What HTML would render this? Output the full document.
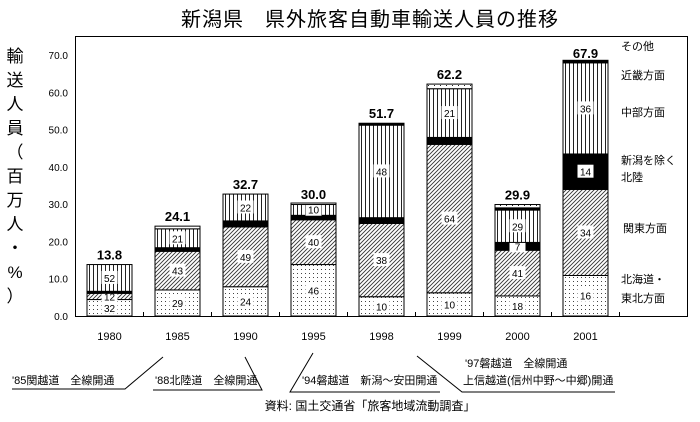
<!DOCTYPE html>
<html><head><meta charset="utf-8"><style>
body{margin:0;background:#fff;}
svg text{font-family:"Liberation Sans","Noto Sans CJK JP",sans-serif;}
</style></head><body>
<svg width="700" height="417" viewBox="0 0 700 417" xmlns="http://www.w3.org/2000/svg">
<defs>
<pattern id="pDots" width="4" height="4" patternUnits="userSpaceOnUse"><rect width="4" height="4" fill="#fff"/><rect x="1" y="1" width="1" height="1" fill="#444"/></pattern>
<pattern id="pHatch" width="4" height="4" patternUnits="userSpaceOnUse"><rect width="4" height="4" fill="#fff"/><path d="M0,4 L4,0 M-1,1 L1,-1 M3,5 L5,3" stroke="#333" stroke-width="0.9"/></pattern>
<pattern id="pVert" width="4" height="4" patternUnits="userSpaceOnUse"><rect width="4" height="4" fill="#fff"/><rect x="1" y="0" width="1" height="4" fill="#222"/></pattern>
<pattern id="pTop" width="6" height="4" patternUnits="userSpaceOnUse"><rect width="6" height="4" fill="#fff"/><rect x="2" y="1" width="1" height="1" fill="#222"/></pattern>
</defs>
<text x="370" y="26" font-size="20" text-anchor="middle" letter-spacing="1">新潟県　県外旅客自動車輸送人員の推移</text>
<g font-size="17" text-anchor="middle">
<text x="15" y="62">輸</text><text x="15" y="86">送</text><text x="15" y="110">人</text><text x="15" y="134">員</text>
<text x="15" y="158">（</text><text x="15" y="182">百</text><text x="15" y="206">万</text><text x="15" y="230">人</text><text x="15" y="254">・</text><text x="15" y="278">%</text><text x="15" y="302">）</text>
</g>
<rect x="75.5" y="36.5" width="612" height="280" fill="none" stroke="#000"/>
<g id="yaxis"></g>
<g id="bars"></g>
<g id="xlabels"></g>
<g font-size="11">
<text x="621" y="50">その他</text>
<text x="621" y="79">近畿方面</text>
<text x="621" y="116">中部方面</text>
<text x="621" y="164">新潟を除く</text>
<text x="621" y="181">北陸</text>
<text x="623" y="232">関東方面</text>
<text x="621" y="283">北海道・</text>
<text x="621" y="302">東北方面</text>
</g>
<g font-size="11" fill="none" stroke="#000">
<polyline points="12,389 125,389 163,357"/>
<polyline points="153,390 262,390 245,357"/>
<polyline points="313,353 290,392 440,392"/>
<polyline points="417,356 462,392 615,392"/>
</g>
<g font-size="11">
<text x="12" y="384">'85関越道　全線開通</text>
<text x="155" y="384">'88北陸道　全線開通</text>
<text x="302" y="384">'94磐越道　新潟〜安田開通</text>
<text x="465" y="367">'97磐越道　全線開通</text>
<text x="463" y="384">上信越道(信州中野〜中郷)開通</text>
</g>
<text x="370" y="410" font-size="12" text-anchor="middle">資料: 国土交通省「旅客地域流動調査」</text>
<script>
const years=["1980","1985","1990","1995","1998","1999","2000","2001"];
const totals=[13.8,24.1,32.7,30.0,51.7,62.2,29.9,67.9];
const shareTohoku=[32,29,24,46,10,10,18,16];
const shareKanto=[12,43,49,40,38,64,41,34];
const shareHokuriku=[4,4,5,4,3,3,7,14];
const shareChubu=[52,21,22,10,48,21,29,36];
const shareKinki=[0,0,0,0,1,0,2,1];
const shareOther=[0,3,0,1,0,2,3,0];
const yTicks=[0,10,20,30,40,50,60,70];
const NS="http://www.w3.org/2000/svg";
const y0=316, pxPer=261/70, x0=75.5, cw=68, bw=45;
const yS=v=>y0-v*pxPer;
const xC=i=>x0+cw*(i+0.5);
function mk(t,a,p){const e=document.createElementNS(NS,t);for(const k in a)e.setAttribute(k,a[k]);p.appendChild(e);return e;}
const ya=document.getElementById('yaxis');
yTicks.forEach(v=>{
 const t=mk('text',{x:68,y:yS(v)+4,'font-size':10,'text-anchor':'end'},ya);t.textContent=v.toFixed(1);
 
 
});
for(let i=1;i<9;i++){const l=mk('line',{x1:x0+cw*i,x2:x0+cw*i,y1:y0,y2:y0-4,stroke:'#000'},ya);
 
 }
const bars=document.getElementById('bars');
const series=[[shareTohoku,'url(#pDots)'],[shareKanto,'url(#pHatch)'],[shareHokuriku,'#000'],[shareChubu,'url(#pVert)'],[shareKinki,'#000'],[shareOther,'url(#pTop)']];
years.forEach((yr,i)=>{
 const g=mk('g',{},bars);
 
 
 let cum=0;const cx=xC(i);
 series.forEach(([arr,fill],s)=>{
  const v=totals[i]*arr[i]/100; if(v<=0)return;
  const yt=yS(cum+v), yb=yS(cum);
  const r=mk('rect',{x:cx-bw/2,y:yt,width:bw,height:Math.max(yb-yt,1.5),fill:fill,stroke:'#000','stroke-width':1},g);
  
  
  if(arr[i]>=7&&s!==4&&s!==5){
   const my=(yt+yb)/2;
   mk('rect',{x:cx-8,y:my-7,width:16,height:13,fill:'#fff'},g);
   const t=mk('text',{x:cx,y:my+4,'font-size':10,'text-anchor':'middle'},g);t.textContent=arr[i];
   
   
  }
  cum+=v;
 });
 const tt=mk('text',{x:cx,y:yS(totals[i])-5,'font-size':13,'font-weight':'bold','text-anchor':'middle'},g);
 tt.textContent=totals[i].toFixed(1);
 
 
 const xl=mk('text',{x:cx,y:340,'font-size':11,'text-anchor':'middle'},document.getElementById('xlabels'));
 xl.textContent=yr;
 
 
});
</script>
</svg>
</body></html>
